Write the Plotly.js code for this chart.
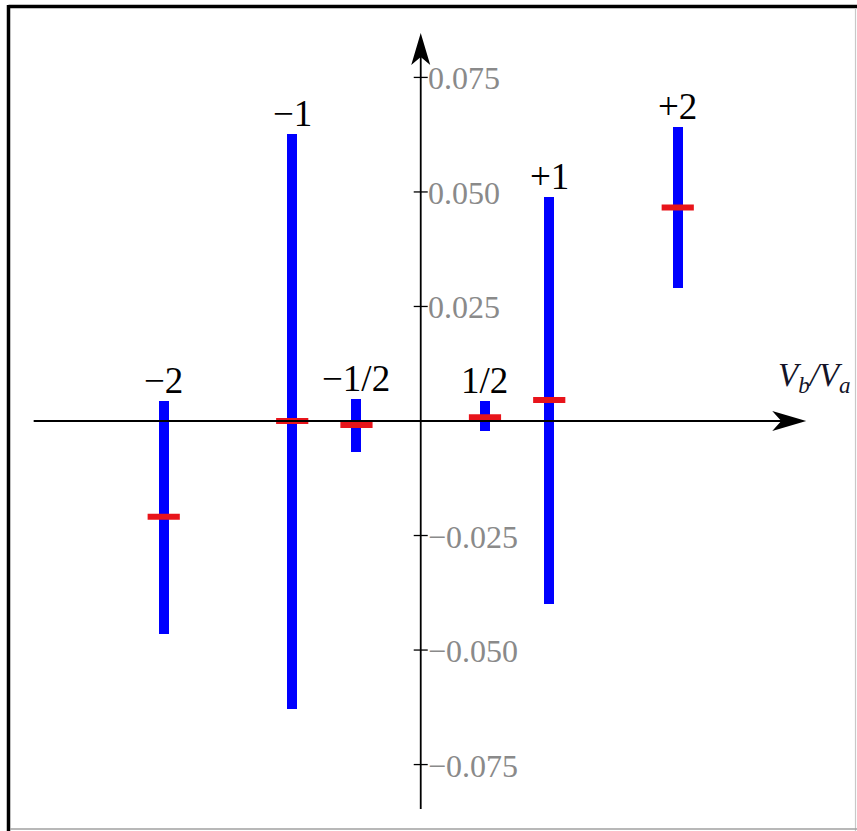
<!DOCTYPE html>
<html>
<head>
<meta charset="utf-8">
<script src="https://cdn.plot.ly/plotly-3.0.1.min.js"></script>
<style>
  html, body { margin: 0; padding: 0; background: #fff; }
  #chart { width: 857px; height: 831px; }
</style>
</head>
<body>
<div id="chart"></div>
<script>
// Ratio V_b/V_a for each case
const ratios = [-2, -1, -0.5, 0.5, 1, 2];
const ratioLabels = ['\u22122', '\u22121', '\u22121/2', '1/2', '+1', '+2'];
// Range ends of each interval and the central value
const lows  = [-0.0464, -0.0628, -0.0068, -0.0022, -0.0400, 0.0290];
const highs = [ 0.0044,  0.0627,  0.0048,  0.0044,  0.0490, 0.0641];
const mids  = [-0.0209,  0.0000, -0.0009,  0.0008,  0.0046, 0.0466];
// Vertical axis ticks
const tickVals = [-0.075, -0.05, -0.025, 0.025, 0.05, 0.075];
const tickText = ['\u22120.075', '\u22120.050', '\u22120.025', '0.025', '0.050', '0.075'];

const serif = 'Liberation Serif, Times New Roman, serif';
const xMin = -3.012, xTip = 3.0;   // horizontal axis extent
const yMin = -0.0847, yTip = 0.0847; // vertical axis extent

const intervals = {
  type: 'bar',
  x: ratios,
  base: lows,
  y: highs.map((h, i) => h - lows[i]),
  width: 0.078,
  marker: { color: '#0000ff', line: { width: 0 } },
  hoverinfo: 'skip'
};

const centers = {
  type: 'scatter',
  mode: 'markers',
  x: ratios,
  y: mids,
  marker: { symbol: 'line-ew', size: 23, color: '#e8141b',
            line: { width: 6, color: '#e8141b' } },
  hoverinfo: 'skip'
};

const shapes = [];
// axis lines
shapes.push({ type: 'line', xref: 'x', yref: 'y', x0: xMin, x1: xTip - 0.1, y0: 0, y1: 0,
              line: { color: '#000', width: 1.8 } });
shapes.push({ type: 'line', xref: 'x', yref: 'y', x0: 0, x1: 0, y0: yMin, y1: yTip - 0.002,
              line: { color: '#000', width: 1.8 } });
// arrowheads
shapes.push({ type: 'path', xref: 'x', yref: 'y', xsizemode: 'pixel', ysizemode: 'pixel',
              xanchor: xTip, yanchor: 0, path: 'M0,0 L-34,10 L-25,0 L-34,-10 Z',
              fillcolor: '#000', line: { width: 0 } });
shapes.push({ type: 'path', xref: 'x', yref: 'y', xsizemode: 'pixel', ysizemode: 'pixel',
              xanchor: 0, yanchor: yTip, path: 'M0,0 L-9.5,-32 L0,-24 L9.5,-32 Z',
              fillcolor: '#000', line: { width: 0 } });
// tick marks on the vertical axis
tickVals.forEach(v => {
  shapes.push({ type: 'line', xref: 'x', yref: 'y', xsizemode: 'pixel', xanchor: 0,
                x0: -7, x1: 7, y0: v, y1: v, line: { color: '#000', width: 1.3 } });
});
// frame
const W = 857, H = 831;
shapes.push({ type: 'line', xref: 'paper', yref: 'paper', x0: 8.5 / W, x1: 1, y0: 1 - 6.5 / H, y1: 1 - 6.5 / H,
              line: { color: '#000', width: 3.5 } });
shapes.push({ type: 'line', xref: 'paper', yref: 'paper', x0: 8.5 / W, x1: 8.5 / W, y0: 0, y1: 1 - 5 / H,
              line: { color: '#000', width: 3.5 } });
shapes.push({ type: 'line', xref: 'paper', yref: 'paper', x0: 855.5 / W, x1: 855.5 / W, y0: 0, y1: 1 - 8 / H,
              line: { color: '#c8c8c8', width: 1.2 } });
shapes.push({ type: 'line', xref: 'paper', yref: 'paper', x0: 10 / W, x1: 1, y0: 1 - 829 / H, y1: 1 - 829 / H,
              line: { color: '#a0a0a0', width: 1.5 } });

const annotations = [];
ratios.forEach((r, i) => {
  annotations.push({ x: r, y: highs[i], xref: 'x', yref: 'y', text: ratioLabels[i],
                     showarrow: false, xanchor: 'center', yanchor: 'bottom', yshift: -2,
                     font: { family: serif, size: 37, color: '#000' } });
});
tickVals.forEach((v, i) => {
  annotations.push({ x: 0, y: v, xref: 'x', yref: 'y', text: tickText[i],
                     showarrow: false, xanchor: 'left', yanchor: 'middle', xshift: 5, yshift: -1,
                     font: { family: serif, size: 32, color: '#8a8a8a' } });
});
annotations.push({ x: 3.36, y: 0.0095, xref: 'x', yref: 'y',
                   text: '<i>V</i><sub><i>b</i></sub><i>/V</i><sub><i>a</i></sub>',
                   showarrow: false, xanchor: 'right', yanchor: 'middle',
                   font: { family: serif, size: 33, color: '#141428' } });

const layout = {
  width: W, height: H,
  margin: { l: 0, r: 0, t: 0, b: 0 },
  paper_bgcolor: '#fff', plot_bgcolor: '#fff',
  showlegend: false,
  bargap: 0,
  xaxis: { range: [-3.274, 3.395], visible: false, fixedrange: true },
  yaxis: { range: [-0.0895, 0.0919], visible: false, fixedrange: true },
  shapes: shapes,
  annotations: annotations
};

Plotly.newPlot('chart', [intervals, centers], layout, { staticPlot: true });
</script>
</body>
</html>
